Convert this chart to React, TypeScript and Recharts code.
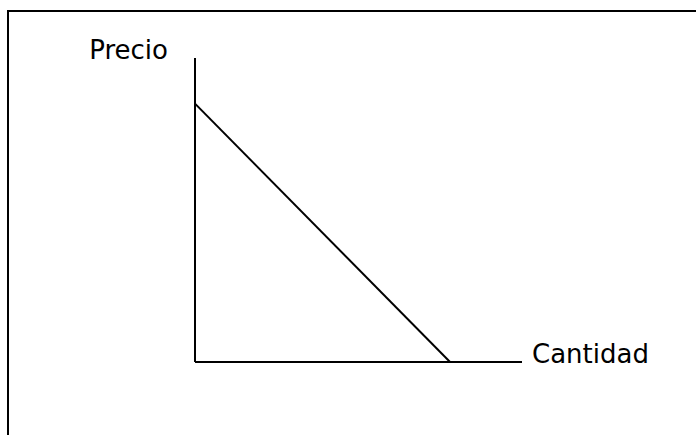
import { LineChart, Line, XAxis, YAxis, Label } from "recharts";

// demand curve: two points
const cantidades = [0, 78];
const precios = [85, 0];
const xLabel = "Cantidad";
const yLabel = "Precio";

const data = cantidades.map((q, i) => ({ q, p: precios[i] }));

const font = { fontFamily: "'DejaVu Sans', Verdana, sans-serif", fontSize: 26, fill: "#000" };

const renderPrecio = (props: any) => {
  const vb = props.viewBox || {};
  return (
    <text x={vb.x + vb.width - 27} y={vb.y + 1} textAnchor="end" {...font}>
      {yLabel}
    </text>
  );
};

const renderCantidad = (props: any) => {
  const vb = props.viewBox || {};
  return (
    <text x={vb.x + vb.width + 10} y={vb.y + 1} textAnchor="start" {...font}>
      {xLabel}
    </text>
  );
};

export default function App() {
  return (
    <div style={{ position: "fixed", left: 0, top: 0, width: 696, height: 435, overflow: "hidden", background: "#fff" }}>
      <div
        style={{
          position: "absolute",
          left: 7,
          top: 10,
          width: 720,
          height: 460,
          border: "2px solid #000",
          boxSizing: "border-box",
        }}
      />
      <div style={{ position: "absolute", left: 0, top: 0 }}>
        <LineChart width={696} height={435} data={data} margin={{ top: 58, right: 174, bottom: 72, left: 194 }}>
          <XAxis
            dataKey="q"
            type="number"
            domain={[0, 100]}
            height={1}
            tick={false}
            tickLine={false}
            axisLine={{ stroke: "#000", strokeWidth: 2 }}
          >
            <Label content={renderCantidad} />
          </XAxis>
          <YAxis
            type="number"
            domain={[0, 100]}
            width={1}
            tick={false}
            tickLine={false}
            axisLine={{ stroke: "#000", strokeWidth: 2 }}
          >
            <Label content={renderPrecio} />
          </YAxis>
          <Line
            dataKey="p"
            type="linear"
            stroke="#000"
            strokeWidth={2}
            dot={false}
            activeDot={false}
            isAnimationActive={false}
          />
        </LineChart>
      </div>
    </div>
  );
}
